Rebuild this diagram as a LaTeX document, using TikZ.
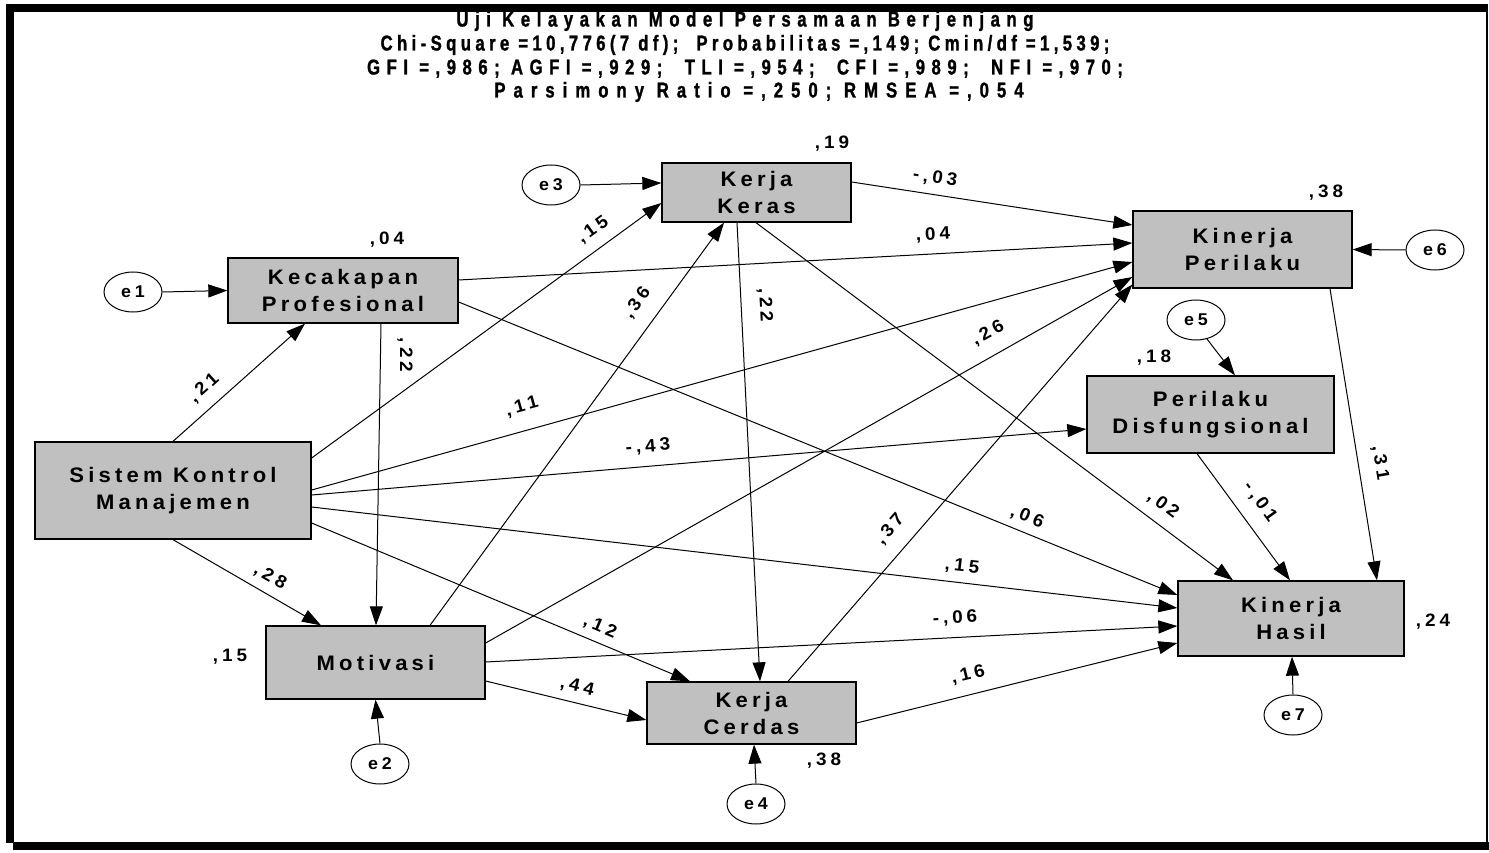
\documentclass[tikz,border=0pt]{standalone}
\usepackage{fontspec}
\setmainfont{Liberation Sans}
\newfontfamily\titlefont{Liberation Sans}[FakeStretch=0.78,FakeBold=1.2]
\newfontfamily\boxfont{Liberation Sans}[FakeStretch=1.05,LetterSpace=20]
\newfontfamily\valfont{Liberation Sans}[FakeStretch=1.05,LetterSpace=22]
\usetikzlibrary{arrows.meta,shapes.geometric}
\definecolor{boxgray}{RGB}{192,192,192}

\begin{document}
\begin{tikzpicture}[x=1pt,y=-1pt,
  var/.style={draw=black,line width=1.3pt,fill=boxgray,inner sep=0pt,align=center,
    font=\boxfont\bfseries\fontsize{21pt}{27pt}\selectfont},
  err/.style={ellipse,draw,line width=1pt,fill=white,minimum width=58pt,
    minimum height=40pt,inner sep=0pt,font=\valfont\bfseries\fontsize{17pt}{20pt}\selectfont},
  arr/.style={line width=1pt,-{Triangle[length=19pt,width=13pt]}},
  coef/.style={inner sep=0pt,font=\valfont\bfseries\fontsize{18pt}{20pt}\selectfont},
  ttl/.style={anchor=base,inner sep=0pt,
    font=\titlefont\bfseries\fontsize{21.5pt}{24pt}\selectfont}]

% page and frame
\useasboundingbox (0,0) rectangle (1489,853);
\fill[white] (0,0) rectangle (1489,853);
\fill[black] (6,4) rectangle (1488,12);
\fill[black] (6,4) rectangle (14,843);
\fill[black] (13,842) rectangle (1489,850);
\fill[black] (1486,4) rectangle (1488,850);

% heading
\node[ttl] (t1) at (745,26.5) {\addfontfeatures{LetterSpace=30.5}Uji Kelayakan Model Persamaan Berjenjang};
\node[ttl] (t2) at (745,50.5) {\addfontfeatures{LetterSpace=20.3}Chi-Square =10,776(7 df);\ \ Probabilitas =,149; Cmin/df =1,539;};
\node[ttl] (t3) at (745,74.5) {\addfontfeatures{LetterSpace=30.3}GFI =,986; AGFI =,929;\ \ TLI =,954;\ \ CFI =,989;\ \ NFI =,970;};
\node[ttl] (t4) at (759,97.5) {\addfontfeatures{LetterSpace=37.2}Parsimony Ratio =,250; RMSEA =,054};

% observed variables
\node[var,minimum width=276pt,minimum height=97pt] (skm) at (173,490.5) {Sistem Kontrol\\Manajemen};
\node[var,minimum width=230pt,minimum height=65pt] (kp) at (343,290.5) {Kecakapan\\Profesional};
\node[var,minimum width=189pt,minimum height=59pt] (kk) at (756.5,192.5) {Kerja\\Keras};
\node[var,minimum width=219pt,minimum height=77pt] (kpr) at (1242.5,249.5) {Kinerja\\Perilaku};
\node[var,minimum width=247pt,minimum height=77pt] (pd) at (1210.5,414.5) {Perilaku\\Disfungsional};
\node[var,minimum width=219pt,minimum height=73pt] (mot) at (375.5,662.5) {Motivasi};
\node[var,minimum width=209pt,minimum height=62pt] (kc) at (751.5,713) {Kerja\\Cerdas};
\node[var,minimum width=226pt,minimum height=75pt] (kh) at (1291,618.5) {Kinerja\\Hasil};

% error terms
\node[err] (e1) at (133,292) {e1};
\node[err] (e3) at (551,185) {e3};
\node[err] (e6) at (1435,250) {e6};
\node[err] (e5) at (1196,320) {e5};
\node[err] (e2) at (380,764) {e2};
\node[err] (e4) at (756,804) {e4};
\node[err] (e7) at (1293,715) {e7};

% residual paths
\draw[arr] (e1.east) -- (kp.west);
\draw[arr] (e3.east) -- ([yshift=9.5pt]kk.west);
\draw[arr] (e6.west) -- (kpr.east);
\draw[arr] (e5.-60) -- ([xshift=24.5pt]pd.north);
\draw[arr] (e2.north) -- (mot.south);
\draw[arr] (e4.north) -- ([xshift=2.5pt]kc.south);
\draw[arr] (e7.north) -- ([xshift=1pt]kh.south);

% structural paths
\draw[arr] (skm.north) -- ([xshift=-38pt]kp.south);
\draw[arr] ([yshift=32.5pt]skm.east) -- ([yshift=-10.5pt]kk.west);
\draw[arr] ([yshift=10.5pt]kp.east) -- ([yshift=6.5pt]kpr.west);
\draw[arr] ([yshift=-11.5pt]kp.east) -- ([yshift=23.5pt]kh.west);
\draw[arr] ([xshift=38pt]kp.south) -- ([xshift=0.5pt]mot.north);
\draw[arr] ([yshift=0.5pt]skm.east) -- ([yshift=-12.5pt]kpr.west);
\draw[arr] ([yshift=-4.5pt]skm.east) -- ([yshift=-14.5pt]pd.west);
\draw[arr] ([yshift=-16.5pt]skm.east) -- ([yshift=10.5pt]kh.west);
\draw[arr] ([yshift=-32.5pt]skm.east) -- ([xshift=-61.5pt]kc.north);
\draw[arr] (skm.south) -- ([xshift=-54.5pt]mot.north);
\draw[arr] ([xshift=54.5pt]mot.north) -- ([xshift=-32.5pt]kk.south);
\draw[arr] ([yshift=19.5pt]mot.east) -- ([yshift=-27.5pt]kpr.west);
\draw[arr] ([xshift=36.5pt]kc.north) -- ([yshift=-35pt]kpr.west);
\draw[arr] ([yshift=0.5pt]mot.east) -- ([yshift=-7.5pt]kh.west);
\draw[arr] ([yshift=-18.5pt]mot.east) -- ([yshift=-7pt]kc.west);
\draw[arr] ([yshift=10.5pt]kk.east) -- ([yshift=24.5pt]kpr.west);
\draw[arr] ([xshift=-19.5pt]kk.south) -- ([xshift=8.5pt]kc.north);
\draw[arr] ([xshift=-0.5pt]kk.south) -- ([xshift=-58pt]kh.north);
\draw[arr] ([yshift=-10pt]kc.east) -- ([yshift=-24.5pt]kh.west);
\draw[arr] ([xshift=-13.5pt]pd.south) -- ([xshift=-1pt]kh.north);
\draw[arr] ([xshift=87.5pt]kpr.south) -- ([xshift=86pt]kh.north);

% squared multiple correlations
\node[coef] (r1) at (387,240) {,04};
\node[coef] (r2) at (832,144) {,19};
\node[coef] (r3) at (1326,193) {,38};
\node[coef] (r4) at (1154,358) {,18};
\node[coef] (r5) at (230,657) {,15};
\node[coef] (r6) at (824,761) {,38};
\node[coef] (r7) at (1433,622) {,24};

% path coefficients
\node[coef,rotate=42] (c1) at (204,388) {,21};
\node[coef,rotate=-90] (c2) at (405,355) {,22};
\node[coef,rotate=36] (c3) at (593,230) {,15};
\node[coef,rotate=54] (c4) at (637,303) {,36};
\node[coef,rotate=-87] (c5) at (765,305) {,22};
\node[coef,rotate=-8.7] (c6) at (935,178) {-,03};
\node[coef,rotate=3] (c7) at (933,235) {,04};
\node[coef,rotate=29] (c8) at (988,333) {,26};
\node[coef,rotate=15.6] (c9) at (522,407) {,11};
\node[coef,rotate=4.6] (c10) at (648,447) {-,43};
\node[coef,rotate=-22] (c11) at (1027,517) {,06};
\node[coef,rotate=-37] (c12) at (1163,505) {,02};
\node[coef,rotate=-54] (c13) at (1260,502) {-,01};
\node[coef,rotate=-81] (c14) at (1380,463) {,31};
\node[coef,rotate=-30] (c15) at (270,577) {,28};
\node[coef,rotate=-23] (c16) at (600,627) {,12};
\node[coef,rotate=-6.6] (c17) at (962,567) {,15};
\node[coef,rotate=3] (c18) at (955,618) {-,06};
\node[coef,rotate=-13.5] (c19) at (577,687) {,44};
\node[coef,rotate=49] (c20) at (890,529) {,37};
\node[coef,rotate=14] (c21) at (968,675) {,16};
\end{tikzpicture}
\end{document}
